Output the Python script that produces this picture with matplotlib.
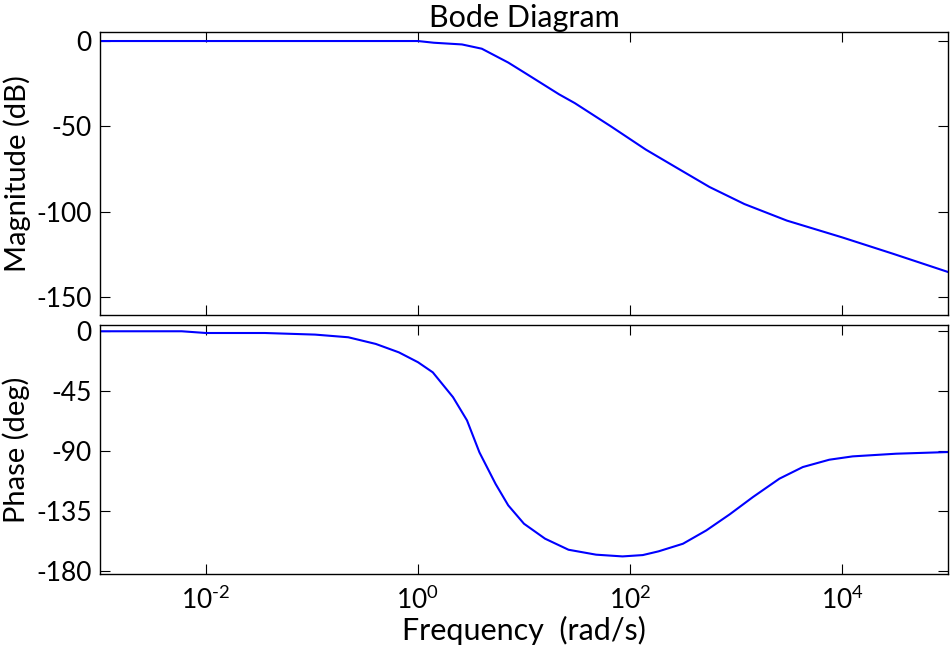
import numpy as np
import matplotlib
matplotlib.use("Agg")
import matplotlib.pyplot as plt

plt.rcParams['font.family'] = ['Lato', 'DejaVu Sans']
plt.rcParams['mathtext.fontset'] = 'custom'
plt.rcParams['mathtext.rm'] = 'Lato'
plt.rcParams['mathtext.default'] = 'regular'
plt.rcParams['axes.unicode_minus'] = False

# Magnitude (dB)
mag_w = [1e-3, 1e-2, 1e-1, 0.5, 1.0, 1.41, 2.6, 4.0, 7.1, 10.4, 21.4, 30.2,
         66.1, 141, 282, 562, 1200, 3020, 1e4, 3.02e4, 1e5]
mag_db = [0, 0, 0, 0, 0, -1, -2, -4.5, -12.6, -19, -31.2, -36.4,
          -50, -63.6, -74.6, -85.5, -95.5, -105.2, -115, -124.6, -135.3]

# Phase (deg)
ph_w = [1e-3, 5.9e-3, 1e-2, 3.6e-2, 0.107, 0.22, 0.40, 0.66, 1.0, 1.38, 2.14,
        2.9, 3.8, 5.4, 7.1, 10, 15.8, 26.3, 47.9, 85, 132, 186, 316, 525,
        871, 1445, 2570, 4270, 7590, 1.26e4, 3.24e4, 1.05e5]
ph_deg = [-0.2, -0.2, -1.5, -1.5, -2.7, -4.7, -9.7, -16, -23.4, -31, -49.6,
          -67, -91, -114.7, -130.7, -144.5, -155.7, -164, -167.7, -169, -168,
          -165.2, -159.5, -149.5, -137.5, -124.5, -110.7, -102, -96.5, -94,
          -92, -90.7]

xt = [1e-2, 1e0, 1e2, 1e4]
xt_labels = [r'$10^{\text{-}2}$', '$10^{0}$', '$10^{2}$', '$10^{4}$']

fig = plt.figure(figsize=(9.52, 6.5), dpi=100)
ax1 = fig.add_axes([0.105, 0.5154, 0.8908, 0.4354])
ax2 = fig.add_axes([0.105, 0.1169, 0.8908, 0.3831])

ax1.semilogx(mag_w, mag_db, color='#0000ff', lw=1.5)
ax2.semilogx(ph_w, ph_deg, color='#0000ff', lw=1.5)

for ax in (ax1, ax2):
    ax.set_xlim(1e-3, 1e5)
    ax.set_xticks(xt)
    ax.minorticks_off()
    ax.tick_params(direction='in', top=True, right=True, length=7,
                   width=0.8, labelsize=19, pad=6)
    for s in ax.spines.values():
        s.set_linewidth(1.0)

ax1.set_ylim(-160.5, 5.3)
ax1.set_yticks([0, -50, -100, -150])
ax1.set_xticklabels([])
ax1.set_ylabel('Magnitude (dB)', fontsize=21, labelpad=4)
ax1.set_title('Bode Diagram', fontsize=22, pad=2)

ax2.set_ylim(-182.2, 4.5)
ax2.set_yticks([0, -45, -90, -135, -180])
ax2.set_xticklabels(xt_labels)
ax2.tick_params(axis='x', pad=9)
ax2.set_ylabel('Phase (deg)', fontsize=21, labelpad=4)
ax2.set_xlabel('Frequency  (rad/s)', fontsize=22, labelpad=1)

fig.savefig('out.png', dpi=100)
